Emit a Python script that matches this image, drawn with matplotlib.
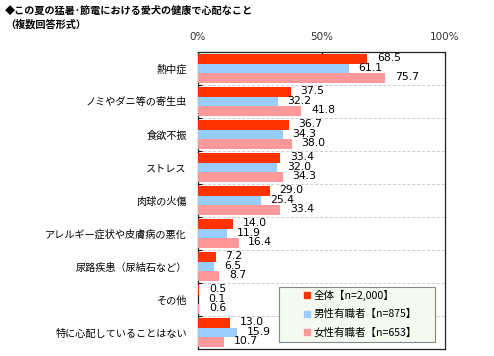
import matplotlib
matplotlib.use('Agg')
import matplotlib.pyplot as plt
from matplotlib.lines import Line2D
from matplotlib.patches import Rectangle
import numpy as np

plt.rcParams['font.family'] = ['Noto Sans CJK JP', 'DejaVu Sans']

# data
categories = ['熱中症', 'ノミやダニ等の寄生虫', '食欲不振', 'ストレス', '肉球の火傷',
              'アレルギー症状や皮膚病の悪化', '尿路疾患（尿結石など）', 'その他',
              '特に心配していることはない']
total = [68.5, 37.5, 36.7, 33.4, 29.0, 14.0, 7.2, 0.5, 13.0]
male = [61.1, 32.2, 34.3, 32.0, 25.4, 11.9, 6.5, 0.1, 15.9]
female = [75.7, 41.8, 38.0, 34.3, 33.4, 16.4, 8.7, 0.6, 10.7]
series_names = ['全体【n=2,000】', '男性有職者【n=875】', '女性有職者【n=653】']
colors = ['#ff3300', '#99ccff', '#ff9999']

fig = plt.figure(figsize=(4.94, 3.56), dpi=100)
ax = fig.add_axes([198/494, 1 - 349/356, 247/494, 297/356])

y = np.arange(len(categories))
h = 0.29
for k, (vals, c) in enumerate(zip([total, male, female], colors)):
    pos = y + (k - 1) * h
    ax.barh(pos, vals, height=h, color=c, zorder=3)
    for p, v in zip(pos, vals):
        ax.annotate(f'{v:.1f}', (v, p), xytext=(7, 0.5), textcoords='offset points',
                    ha='left', va='center', fontsize=7.8, family='DejaVu Sans', zorder=4)

ax.set_xlim(0, 100)
ax.set_ylim(len(categories) - 0.5, -0.5)

# group separators
for s in np.arange(0.5, len(categories) - 0.5):
    ax.axhline(s, color='#cccccc', lw=0.7, ls=(0, (3, 2)), zorder=1)

ax.xaxis.tick_top()
ax.set_xticks([0, 50, 100])
ax.set_xticklabels(['0%', '50%', '100%'], fontsize=7.5, color='#333333', family='DejaVu Sans')
ax.tick_params(axis='x', direction='in', length=3, pad=7, width=0.8)
ax.set_yticks(y)
ax.set_yticklabels(categories, fontsize=7.3)
ax.tick_params(axis='y', length=0, pad=8)
ax.set_yticks(np.arange(0.5, len(categories) - 0.5), minor=True)
ax.tick_params(axis='y', which='minor', direction='in', length=3, width=0.8)
for sp in ax.spines.values():
    sp.set_linewidth(0.9)
    sp.set_color('#222222')

# legend box
ax.add_patch(Rectangle((81/247, 7/297), 156/247, 55/297, transform=ax.transAxes,
                       facecolor='#f4faf0', edgecolor='#888888', lw=0.8, zorder=5))
handles = [Line2D([], [], marker='s', ls='none', color=c, markersize=4.5) for c in colors]
leg = ax.legend(handles, series_names, loc='center left',
                bbox_to_anchor=(104/247, 35/297),
                fontsize=7.6, frameon=False, handletextpad=0.1,
                handlelength=1.0, labelspacing=0.78, borderpad=0, borderaxespad=0)
leg.set_zorder(6)

fig.text(5/494, 1 - 11/356, '◆この夏の猛暑･節電における愛犬の健康で心配なこと',
         fontsize=7.3, va='center', ha='left', weight='bold')
fig.text(5/494, 1 - 25/356, '（複数回答形式）', fontsize=7.3, va='center', ha='left', weight='bold')

fig.savefig('out.png', dpi=100)
